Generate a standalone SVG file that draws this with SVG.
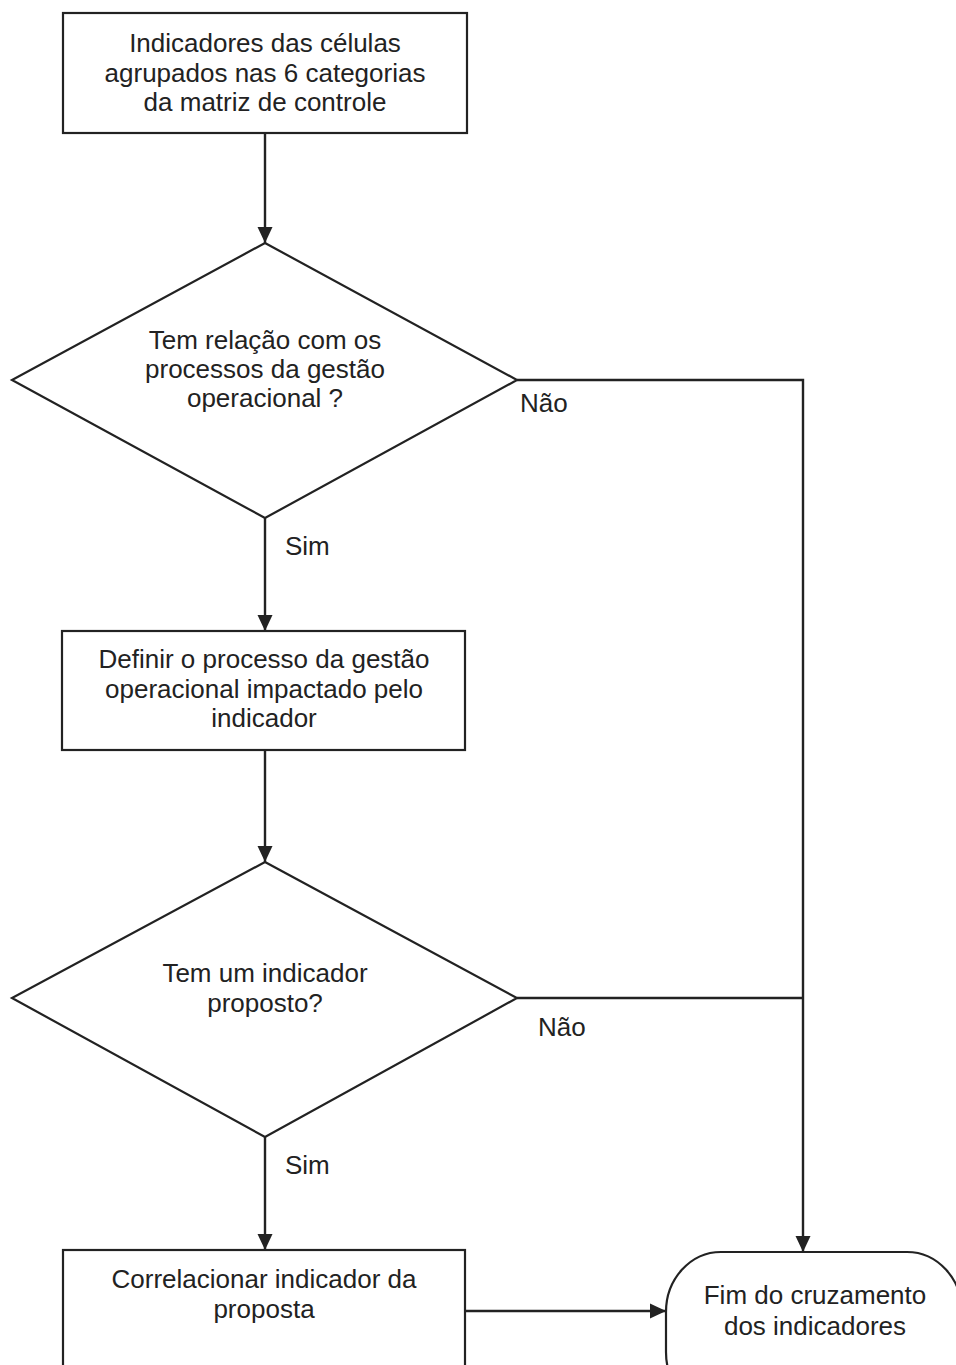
<svg xmlns="http://www.w3.org/2000/svg" width="956" height="1365" viewBox="0 0 956 1365">
<style>
.s{fill:#fff;stroke:#222;stroke-width:2.2}
.c{fill:none;stroke:#222;stroke-width:2.4}
text{font-family:"Liberation Sans",Arial,sans-serif;font-size:26px;fill:#222}
.m{text-anchor:middle}
</style>
<defs>
<marker id="a" markerWidth="16" markerHeight="16" refX="16" refY="7.5" viewBox="0 0 16 15" markerUnits="userSpaceOnUse" orient="auto">
<path d="M0,0 L16,7.5 L0,15 Z" fill="#222"/>
</marker>
</defs>
<rect width="956" height="1365" fill="#fff"/>
<g id="connectors">
<line class="c" x1="265" y1="133" x2="265" y2="243" marker-end="url(#a)"/>
<line class="c" x1="265" y1="518" x2="265" y2="631" marker-end="url(#a)"/>
<line class="c" x1="265" y1="750" x2="265" y2="862" marker-end="url(#a)"/>
<line class="c" x1="265" y1="1137" x2="265" y2="1250" marker-end="url(#a)"/>
<polyline class="c" points="517,380 803,380 803,1252" marker-end="url(#a)"/>
<line class="c" x1="517" y1="998" x2="803" y2="998"/>
<line class="c" x1="465" y1="1311" x2="666" y2="1311" marker-end="url(#a)"/>
<text x="520" y="412">Não</text>
<text x="538" y="1036">Não</text>
<text x="285" y="555">Sim</text>
<text x="285" y="1174">Sim</text>
</g>
<g id="n1">
<rect class="s" x="63" y="13" width="404" height="120"/>
<text class="m" x="265" y="52">Indicadores das células</text>
<text class="m" x="265" y="82">agrupados nas 6 categorias</text>
<text class="m" x="265" y="111">da matriz de controle</text>
</g>
<g id="d1">
<polygon class="s" points="265,243 517,380 265,518 12,380"/>
<text class="m" x="265" y="349">Tem relação com os</text>
<text class="m" x="265" y="378">processos da gestão</text>
<text class="m" x="265" y="407">operacional ?</text>
</g>
<g id="n2">
<rect class="s" x="62" y="631" width="403" height="119"/>
<text class="m" x="264" y="668">Definir o processo da gestão</text>
<text class="m" x="264" y="698">operacional impactado pelo</text>
<text class="m" x="264" y="727">indicador</text>
</g>
<g id="d2">
<polygon class="s" points="265,862 517,998 265,1137 12,998"/>
<text class="m" x="265" y="982">Tem um indicador</text>
<text class="m" x="265" y="1012">proposto?</text>
</g>
<g id="n3">
<rect class="s" x="63" y="1250" width="402" height="140"/>
<text class="m" x="264" y="1288">Correlacionar indicador da</text>
<text class="m" x="264" y="1318">proposta</text>
</g>
<g id="end">
<rect class="s" x="666" y="1252" width="296" height="160" rx="55" ry="60"/>
<text class="m" x="815" y="1304">Fim do cruzamento</text>
<text class="m" x="815" y="1335">dos indicadores</text>
</g>
</svg>
